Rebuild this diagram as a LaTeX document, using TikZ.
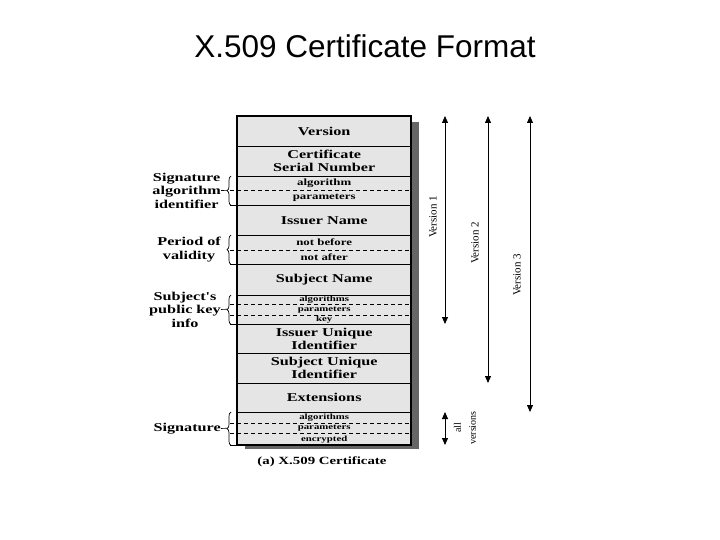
\documentclass[tikz,border=0pt]{standalone}
\usepackage{fontspec}
\usetikzlibrary{arrows.meta,decorations.pathreplacing}
\newfontfamily\figfont[FakeStretch=1.35]{Liberation Serif}
\newfontfamily\figthin{Liberation Serif}
\newfontfamily\titlefont{Liberation Sans}
\definecolor{certfill}{gray}{0.9}
\definecolor{certshadow}{gray}{0.4}

\begin{document}
\begin{tikzpicture}[x=1pt,y=-1pt,
    field/.style={anchor=north west,minimum width=174pt,inner sep=0pt,align=center,
      font=\figfont\bfseries\fontsize{12}{13}\selectfont},
    subfield/.style={field,font=\figfont\bfseries\fontsize{9.5}{10}\selectfont},
    tinyfield/.style={field,font=\figfont\bfseries\fontsize{8}{8}\selectfont},
    rowline/.style={line width=1.2pt},
    subline/.style={line width=0.6pt,dash pattern=on 4pt off 3pt},
    grp/.style={align=center,anchor=east,inner sep=0pt,font=\figfont\bfseries\fontsize{12}{13.5}\selectfont},
    curly/.style={decorate,decoration={brace,amplitude=4pt},line width=0.7pt},
    span/.style={{Triangle[length=7pt,width=6pt]}-{Triangle[length=7pt,width=6pt]},line width=0.8pt},
    ver/.style={rotate=90,inner sep=0pt,font=\figthin\fontsize{11}{12}\selectfont}]

  \useasboundingbox (0,0) rectangle (720,540);
  \node (title) at (365,46) {\titlefont\fontsize{31.5}{36}\selectfont X.509 Certificate Format};

  % certificate body with shadow
  \fill[certshadow] (245,122) rectangle (419,449);
  \fill[certfill] (237,116) rectangle (411,445);

  \node[field,minimum height=30pt] (version) at (237,116) {Version};
  \node[field,minimum height=30pt] (serial) at (237,146) {Certificate\\Serial Number};
  \node[subfield,minimum height=14pt] (sigalg) at (237,176) {algorithm};
  \node[subfield,minimum height=15pt] (sigpar) at (237,190) {parameters};
  \node[field,minimum height=30pt] (issuer) at (237,205) {Issuer Name};
  \node[subfield,minimum height=15pt] (before) at (237,235) {not before};
  \node[subfield,minimum height=14pt] (after) at (237,250) {not after};
  \node[field,minimum height=31pt] (subject) at (237,264) {Subject Name};
  \node[tinyfield,minimum height=9pt] (pkalg) at (237,295) {algorithms};
  \node[tinyfield,minimum height=11pt] (pkpar) at (237,304) {parameters};
  \node[tinyfield,minimum height=9pt] (pkkey) at (237,315) {key};
  \node[field,minimum height=29pt] (issuerid) at (237,324) {Issuer Unique\\Identifier};
  \node[field,minimum height=30pt] (subjectid) at (237,353) {Subject Unique\\Identifier};
  \node[field,minimum height=29pt] (ext) at (237,383) {Extensions};
  \node[tinyfield,minimum height=11pt] (encalg) at (237,412) {algorithms};
  \node[tinyfield,minimum height=10pt] (encpar) at (237,423) {parameters};
  \node[tinyfield,minimum height=12pt] (encsig) at (237,433) {encrypted};

  % row separators
  \draw[rowline] (version.south west) -- (version.south east);
  \draw[rowline] (serial.south west) -- (serial.south east);
  \draw[rowline] ([xshift=-7pt]sigpar.south west) -- (sigpar.south east);
  \draw[rowline] (issuer.south west) -- (issuer.south east);
  \draw[rowline] ([xshift=-7pt]after.south west) -- (after.south east);
  \draw[rowline] (subject.south west) -- (subject.south east);
  \draw[rowline] ([xshift=-7pt]pkkey.south west) -- (pkkey.south east);
  \draw[rowline] (issuerid.south west) -- (issuerid.south east);
  \draw[rowline] (subjectid.south west) -- (subjectid.south east);
  \draw[rowline] (ext.south west) -- (ext.south east);
  \draw[rowline] ([xshift=-7pt]encsig.south west) -- (encsig.south west);
  \draw[subline] ([xshift=-7pt]sigalg.south west) -- (sigalg.south east);
  \draw[subline] ([xshift=-7pt]before.south west) -- (before.south east);
  \draw[subline] ([xshift=-7pt]pkalg.south west) -- (pkalg.south east);
  \draw[subline] ([xshift=-7pt]pkpar.south west) -- (pkpar.south east);
  \draw[subline] ([xshift=-7pt]encalg.south west) -- (encalg.south east);
  \draw[subline] ([xshift=-7pt]encpar.south west) -- (encpar.south east);
  \draw[line width=2pt] (version.north west) rectangle (encsig.south east);

  % field groups on the left
  \draw[curly] ([xshift=-6pt]sigpar.south west) -- ([xshift=-6pt]sigalg.north west);
  \draw[curly] ([xshift=-6pt]after.south west) -- ([xshift=-6pt]before.north west);
  \draw[curly] ([xshift=-6pt]pkkey.south west) -- ([xshift=-6pt]pkalg.north west);
  \draw[curly] ([xshift=-6pt]encsig.south west) -- ([xshift=-6pt]encalg.north west);
  \coordinate (sigtip) at ([xshift=-10pt]sigalg.south west);
  \coordinate (pktip) at ([xshift=-10pt,yshift=0.5pt]pkpar.west);
  \coordinate (enctip) at ([xshift=-10pt]encpar.west);
  \node[grp] (sigid) at (221,190.5) {Signature\\algorithm\\identifier};
  \node[grp] (validity) at (221,249.5) {Period of\\validity};
  \node[grp] (pkinfo) at (221,309.5) {Subject's\\public key\\info};
  \node[grp] (signature) at (221,428.5) {Signature};
  \draw[line width=0.6pt] (sigid.east) -- (sigtip);
  \draw[line width=0.6pt] (pkinfo.east) -- (pktip);
  \draw[line width=0.6pt] (signature.east) -- (enctip);

  % version spans
  \coordinate (v1top) at (445,116);
  \coordinate (v1end) at (445,324);
  \coordinate (v2top) at (488,116);
  \coordinate (v2end) at (488,383);
  \coordinate (v3top) at (530,116);
  \coordinate (v3end) at (530,412);
  \coordinate (alltop) at (445,412);
  \coordinate (allend) at (445,445);
  \draw[span] (v1top) -- (v1end);
  \draw[span] (v2top) -- (v2end);
  \draw[span] (v3top) -- (v3end);
  \draw[span] (alltop) -- (allend);
  \node[ver] (v1lab) at (433,217) {Version 1};
  \node[ver] (v2lab) at (475,243) {Version 2};
  \node[ver] (v3lab) at (517,275) {Version 3};
  \node[ver,align=center,font=\figthin\fontsize{10}{11}\selectfont] (alllab) at (465,428) {all\\[4pt]versions};

  \node (caption) at (322,462) {\figfont\bfseries\fontsize{11}{12}\selectfont (a) X.509 Certificate};
\end{tikzpicture}
\end{document}
